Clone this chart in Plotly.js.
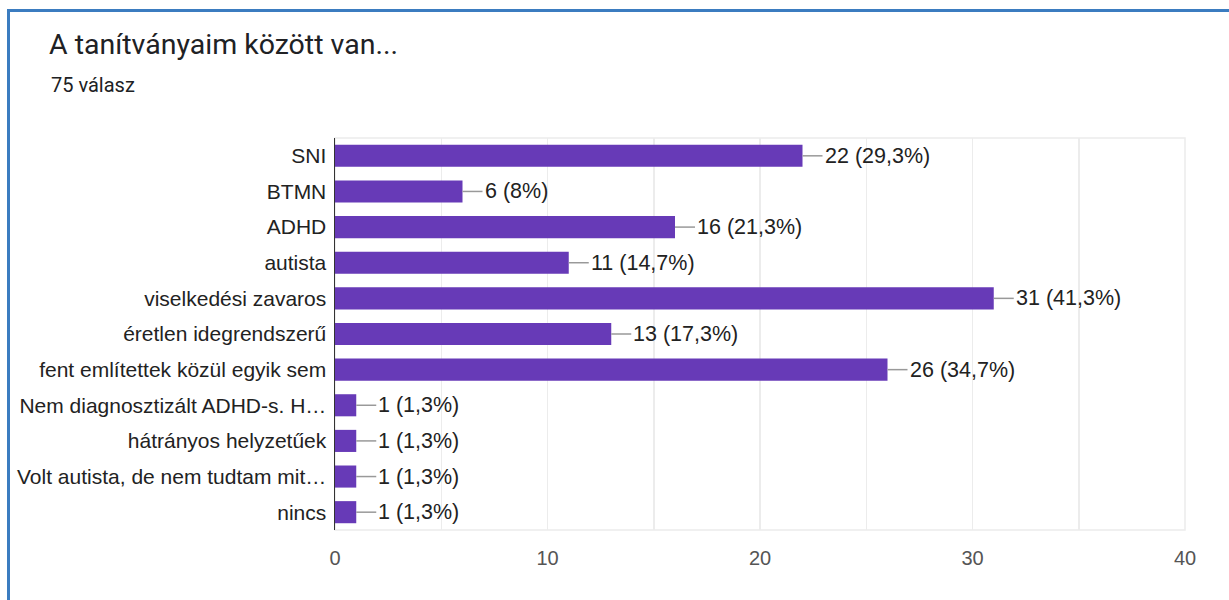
<!DOCTYPE html>
<html>
<head>
<meta charset="utf-8">
<script src="https://cdn.plot.ly/plotly-3.0.1.min.js"></script>
<style>
  html, body { margin: 0; padding: 0; background: #fff; }
  #frame { position: absolute; left: 7px; top: 9px; width: 1300px; height: 700px;
           border-left: 3px solid #3b7cc0; border-top: 3px solid #3b7cc0; pointer-events: none; }
  #chart { position: absolute; left: 0; top: 0; width: 1229px; height: 600px; }
</style>
</head>
<body>
<div id="chart"></div>
<div id="frame"></div>
<script>
const categories = [
  "SNI", "BTMN", "ADHD", "autista", "viselkedési zavaros", "éretlen idegrendszerű",
  "fent említettek közül egyik sem", "Nem diagnosztizált ADHD-s. H…", "hátrányos helyzetűek",
  "Volt autista, de nem tudtam mit…", "nincs"
];
const counts = [22, 6, 16, 11, 31, 13, 26, 1, 1, 1, 1];
const percents = ["29,3%", "8%", "21,3%", "14,7%", "41,3%", "17,3%", "34,7%", "1,3%", "1,3%", "1,3%", "1,3%"];
const xTicks = [0, 10, 20, 30, 40];
const chartTitle = "A tanítványaim között van...";
const subtitle = "75 válasz";

const labelFont = "Arial, 'Liberation Sans', sans-serif";

const trace = {
  type: "bar",
  orientation: "h",
  x: counts,
  y: categories,
  width: 0.62,
  marker: { color: "#673ab7" },
  hoverinfo: "none"
};

const shapes = categories.map((c, i) => ({
  type: "line", xref: "x", yref: "y",
  xsizemode: "pixel", xanchor: counts[i], x0: 0, x1: 20,
  y0: c, y1: c,
  line: { color: "#999999", width: 1.5 }
}));
shapes.push({
  type: "rect", xref: "paper", yref: "paper", x0: 0, x1: 1, y0: 0, y1: 1,
  line: { color: "#ececec", width: 1.5 }, layer: "below"
});

const annotations = categories.map((c, i) => ({
  x: counts[i], y: c, xref: "x", yref: "y",
  text: counts[i] + " (" + percents[i] + ")",
  showarrow: false, xanchor: "left", yanchor: "middle", xshift: 20,
  font: { family: labelFont, size: 21.5, color: "#222222" }
}));
annotations.push({
  xref: "paper", yref: "paper", x: (49 - 335) / 850, y: (530 - 85) / 392,
  xanchor: "left", yanchor: "middle", showarrow: false,
  text: subtitle, font: { family: "Roboto, sans-serif", size: 20, color: "#202124" }
});

const layout = {
  width: 1229, height: 600,
  margin: { l: 335, r: 44, t: 138, b: 70, pad: 0 },
  paper_bgcolor: "rgba(0,0,0,0)",
  plot_bgcolor: "#ffffff",
  showlegend: false,
  title: {
    text: chartTitle, xref: "container", yref: "container",
    x: 49 / 1229, xanchor: "left", y: 1 - 44 / 600, yanchor: "middle",
    font: { family: "Roboto, sans-serif", size: 28.5, color: "#202124" }
  },
  xaxis: {
    range: [0, 40], tickvals: xTicks, ticks: "", showline: false, zeroline: false,
    showgrid: true, gridcolor: "#ececec", gridwidth: 1.5,
    minor: { dtick: 5, showgrid: true, gridcolor: "#ececec", gridwidth: 1.5, ticks: "" },
    tickfont: { family: labelFont, size: 20, color: "#555555" },
    ticklabelstandoff: 14, fixedrange: true
  },
  yaxis: {
    autorange: "reversed", type: "category", ticks: "", showgrid: false,
    showline: true, linecolor: "#333333", linewidth: 1.5, zeroline: false,
    tickfont: { family: labelFont, size: 21, color: "#222222" },
    ticklabelstandoff: 3, fixedrange: true
  },
  bargap: 0.38,
  shapes: shapes,
  annotations: annotations
};

Plotly.newPlot("chart", [trace], layout, { displayModeBar: false, staticPlot: true });
</script>
</body>
</html>
